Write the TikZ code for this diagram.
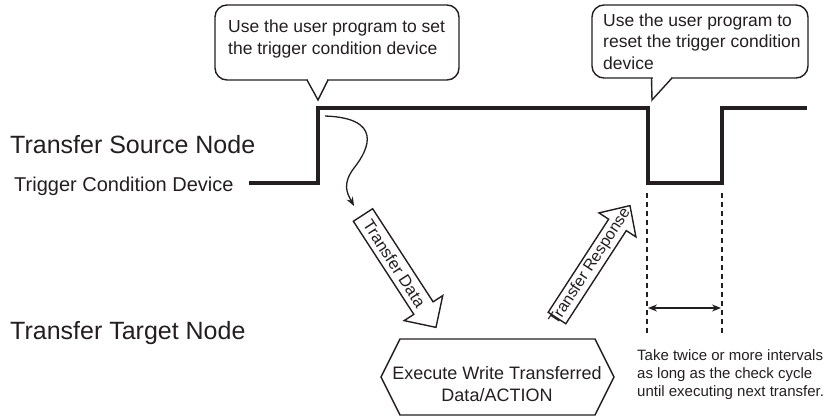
\documentclass[tikz,border=0pt]{standalone}
\usepackage{fontspec}
\setmainfont{Liberation Sans}
\usetikzlibrary{arrows.meta}
\definecolor{ink}{RGB}{35,31,32}
\begin{document}
\begin{tikzpicture}[x=1pt,y=-1pt,
  signalline/.style={line width=3.6pt, draw=ink, line join=miter},
  callout/.style={line width=1.4pt, draw=ink},
  lbl/.style={inner sep=0pt, text=ink, align=left},
  blockarrow/.style={line width=1.4pt, draw=ink, fill=white, line join=miter},
  dline/.style={line width=2pt, draw=ink, dash pattern=on 5pt off 4pt}
]
\useasboundingbox (0,0) rectangle (830,417);

% signal
\coordinate (s0) at (249,183);
\coordinate (r1) at (318,108);
\coordinate (f1) at (648,108);
\coordinate (f2) at (648,183);
\coordinate (r2) at (722,183);
\coordinate (s9) at (807,108);
\draw[signalline] (s0) -- (318,183) -- (r1) -- (f1) -- (f2) -- (r2) -- (722,108) -- (s9);

% callout 1
\draw[callout, rounded corners=12pt] (215,5) rectangle (459,80);
\fill[white] (308.3,77) rectangle (326.9,82);
\draw[callout, line join=miter] (307,80) -- (318,100) -- (328,80);
\node[lbl, anchor=west, font=\fontsize{17.5}{22}\selectfont] (c1) at (228,39)
  {Use the user program to set\\the trigger condition device};

% callout 2
\draw[callout, rounded corners=12pt] (592,5) rectangle (808,78);
\fill[white] (652.5,75) rectangle (670.8,80);
\draw[callout, line join=miter] (651.5,78) -- (652,100) -- (672,78);
\node[lbl, anchor=west, font=\fontsize{17.5}{21.5}\selectfont] (c2) at (603,41.5)
  {Use the user program to\\reset the trigger condition\\device};

% left labels
\node[lbl, anchor=west, font=\fontsize{25}{30}\selectfont] (src) at (10,145) {Transfer Source Node};
\node[lbl, anchor=west, font=\fontsize{20}{24}\selectfont] (trig) at (14,186) {Trigger Condition Device};
\node[lbl, anchor=west, font=\fontsize{25}{30}\selectfont] (tgt) at (10,333) {Transfer Target Node};

% curved arrow
\coordinate (cs) at (325,116);
\coordinate (ce) at (354,206);
\draw[ink, line width=1.3pt, -{Stealth[length=9pt,width=7pt]}]
  (cs) .. controls (382,118) and (370,148) .. (354,168) .. controls (342,184) and (347,193) .. (ce);

% Transfer Data block arrow
\begin{scope}[shift={(363,215)}, rotate=-57]
  \filldraw[blockarrow] (0,-11.5) -- (111,-11.5) -- (111,-23) -- (134,0) -- (111,23) -- (111,11.5) -- (0,11.5) -- cycle;
  \node[inner sep=0pt, text=ink, rotate=-57, font=\fontsize{16.5}{18}\selectfont] (tdata) at (58,0) {Transfer Data};
\end{scope}

% Transfer Response block arrow
\begin{scope}[shift={(557,318)}, rotate=57]
  \filldraw[blockarrow] (0,-10.5) -- (111,-10.5) -- (111,-22) -- (134,0) -- (111,22) -- (111,10.5) -- (0,10.5) -- cycle;
  \node[inner sep=0pt, text=ink, rotate=57, font=\fontsize{16}{18}\selectfont] (tresp) at (61,0) {Transfer Response};
\end{scope}

% hexagon
\draw[callout, line join=miter] (381,377) -- (400,339) -- (595,339) -- (614,377) -- (595,415) -- (400,415) -- cycle;
\node[lbl, align=center, font=\fontsize{18}{22}\selectfont] (exec) at (497,384)
  {Execute Write Transferred\\Data/ACTION};

% dashed lines and interval
\coordinate (d1a) at (647,193);
\coordinate (d1b) at (647,333);
\coordinate (d2a) at (722,193);
\coordinate (d2b) at (722,333);
\draw[dline] (d1a) -- (d1b);
\draw[dline] (d2a) -- (d2b);
\coordinate (ia) at (648,308);
\coordinate (ib) at (721,308);
\draw[ink, line width=1.5pt, {Stealth[length=9pt,width=7pt]}-{Stealth[length=9pt,width=7pt]}] (ia) -- (ib);

\node[lbl, anchor=west, font=\fontsize{15}{18}\selectfont] (take) at (637,375)
  {Take twice or more intervals\\as long as the check cycle\\until executing next transfer.};
\end{tikzpicture}
\end{document}
